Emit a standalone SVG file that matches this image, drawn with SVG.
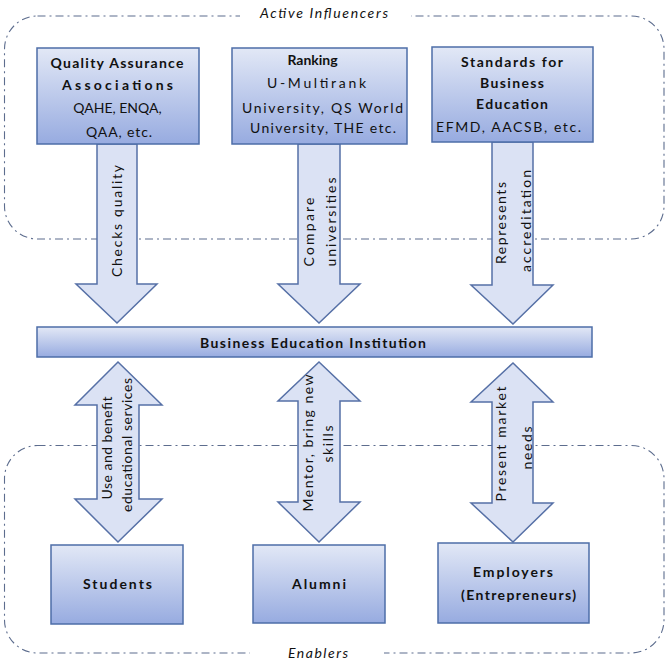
<svg xmlns="http://www.w3.org/2000/svg" width="666" height="661" viewBox="0 0 666 661">
<defs>
<linearGradient id="ng" x1="0" y1="0" x2="0" y2="1">
<stop offset="0" stop-color="#e2e8f6"/>
<stop offset="1" stop-color="#97abe0"/>
</linearGradient>
<style>
.node{fill:url(#ng);stroke:#4d6ea8;stroke-width:1.5}
.arrow{fill:#dbe2f4;stroke:#5670a6;stroke-width:1.5;stroke-linejoin:miter}
.zone{fill:none;stroke:#5d6d8e;stroke-width:1.1;stroke-dasharray:8 4 2 4}
.t{font-family:Lato,"Open Sans","Liberation Sans",sans-serif;font-size:14px;fill:#111;text-anchor:middle}
.b{font-weight:bold}
.i{font-style:italic}
</style>
</defs>
<rect width="666" height="661" fill="#ffffff"/>
<g id="zones">
<rect class="zone" x="4.5" y="16" width="659.5" height="223" rx="33"/>
<rect class="zone" x="4.5" y="445.5" width="659.5" height="207.5" rx="33"/>
<rect x="240" y="0" width="171" height="28" fill="#ffffff"/>
<rect x="250" y="645" width="134" height="16" fill="#ffffff"/>
<text class="t i" x="324" y="18" textLength="128" lengthAdjust="spacing">Active Influencers</text>
<text class="t i" x="318" y="658" textLength="60" lengthAdjust="spacing">Enablers</text>
</g>
<g id="connectors">
<path class="arrow" d="M97,144 L137,144 L137,284 L157,284 L117,323 L76,284 L97,284 Z"/>
<path class="arrow" d="M298,144 L340,144 L340,284 L360,284 L319,323 L278,284 L298,284 Z"/>
<path class="arrow" d="M492,142 L533,142 L533,285 L553,285 L513,324 L471,285 L492,285 Z"/>
<path class="arrow" d="M118,362 L162,405 L139,405 L139,499 L162,499 L118,542 L75,499 L97,499 L97,405 L75,405 Z"/>
<path class="arrow" d="M319,362 L360,401 L340,401 L340,502 L360,502 L319,542 L278,502 L298,502 L298,401 L278,401 Z"/>
<path class="arrow" d="M513,363 L553,402 L533,402 L533,503 L553,503 L513,542 L471,503 L492,503 L492,402 L471,402 Z"/>
<text class="t" transform="translate(122,221) rotate(-90)" textLength="112" lengthAdjust="spacing">Checks quality</text>
<text class="t" transform="translate(314,232) rotate(-90)" textLength="69" lengthAdjust="spacing">Compare</text>
<text class="t" transform="translate(336,222) rotate(-90)" textLength="89" lengthAdjust="spacing">universities</text>
<text class="t" transform="translate(506,223) rotate(-90)" textLength="82" lengthAdjust="spacing">Represents</text>
<text class="t" transform="translate(531,221) rotate(-90)" textLength="102" lengthAdjust="spacing">accreditation</text>
<text class="t" transform="translate(112,448) rotate(-90)" textLength="103" lengthAdjust="spacing">Use and benefit</text>
<text class="t" transform="translate(132,445) rotate(-90)" textLength="134" lengthAdjust="spacing">educational services</text>
<text class="t" transform="translate(313,443) rotate(-90)" textLength="137" lengthAdjust="spacing">Mentor, bring new</text>
<text class="t" transform="translate(333,444) rotate(-90)" textLength="37" lengthAdjust="spacing">skills</text>
<text class="t" transform="translate(506,444) rotate(-90)" textLength="115" lengthAdjust="spacing">Present market</text>
<text class="t" transform="translate(532,448) rotate(-90)" textLength="43" lengthAdjust="spacing">needs</text>
</g>
<g id="qaa">
<rect class="node" x="37" y="48" width="162" height="96"/>
<text class="t b" x="117" y="68" textLength="133" lengthAdjust="spacing">Quality Assurance</text>
<text class="t b" x="117.5" y="90" textLength="111" lengthAdjust="spacing">Associations</text>
<text class="t" x="117.5" y="113">QAHE, ENQA,</text>
<text class="t" x="119" y="137" textLength="66" lengthAdjust="spacing">QAA, etc.</text>
</g>
<g id="ranking">
<rect class="node" x="232" y="48" width="175" height="96"/>
<text class="t b" x="312.5" y="65">Ranking</text>
<text class="t" x="316.5" y="88" textLength="99" lengthAdjust="spacing">U-Multirank</text>
<text class="t" x="322.5" y="113" textLength="161" lengthAdjust="spacing">University, QS World</text>
<text class="t" x="323" y="133" textLength="146" lengthAdjust="spacing">University, THE etc.</text>
</g>
<g id="standards">
<rect class="node" x="432" y="47" width="161" height="95"/>
<text class="t b" x="512" y="67" textLength="102" lengthAdjust="spacing">Standards for</text>
<text class="t b" x="512" y="88" textLength="64" lengthAdjust="spacing">Business</text>
<text class="t b" x="512" y="109" textLength="72" lengthAdjust="spacing">Education</text>
<text class="t" x="508.5" y="132" textLength="145" lengthAdjust="spacing">EFMD, AACSB, etc.</text>
</g>
<g id="bei">
<rect class="node" x="37" y="327" width="555" height="30"/>
<text class="t b" x="313" y="348" textLength="226" lengthAdjust="spacing">Business Education Institution</text>
</g>
<g id="students">
<rect class="node" x="51" y="545" width="132" height="79"/>
<text class="t b" x="117.5" y="589" textLength="69" lengthAdjust="spacing">Students</text>
</g>
<g id="alumni">
<rect class="node" x="253" y="545" width="132" height="78"/>
<text class="t b" x="319" y="589" textLength="54" lengthAdjust="spacing">Alumni</text>
</g>
<g id="employers">
<rect class="node" x="438" y="543" width="151" height="80"/>
<text class="t b" x="513" y="577" textLength="80" lengthAdjust="spacing">Employers</text>
<text class="t b" x="518.5" y="600" textLength="115" lengthAdjust="spacing">(Entrepreneurs)</text>
</g>
</svg>
